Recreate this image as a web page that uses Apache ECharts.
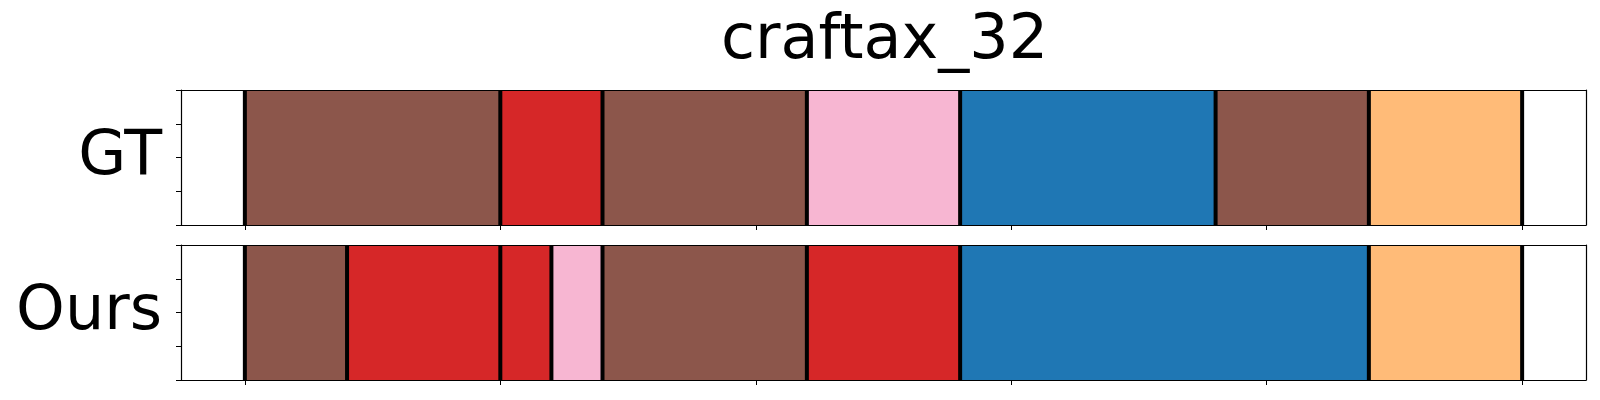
<!DOCTYPE html>
<html>
<head>
<meta charset="utf-8">
<script src="https://cdn.jsdelivr.net/npm/echarts@6/dist/echarts.min.js"></script>
<style>html,body{margin:0;padding:0;background:#fff}#c{width:1600px;height:400px}</style>
</head>
<body>
<div id="c"></div>
<script>
// ---- data ----
const title = 'craftax_32';
const rowNames = ['GT', 'Ours'];
const gtStarts = [0, 100, 140, 220, 280, 380, 440];
const gtEnds   = [100, 140, 220, 280, 380, 440, 500];
const gtClasses = ['brown', 'red', 'brown', 'pink', 'blue', 'brown', 'orange'];
const gtBoundaries = [0, 100, 140, 220, 280, 380, 440, 500];
const oursStarts = [0, 40, 100, 120, 140, 220, 280, 440];
const oursEnds   = [40, 100, 120, 140, 220, 280, 440, 500];
const oursClasses = ['brown', 'red', 'red', 'pink', 'brown', 'red', 'blue', 'orange'];
const oursBoundaries = [0, 40, 100, 120, 140, 220, 280, 440, 500];
const xTicks = [0, 100, 200, 300, 400, 500];
const xMin = -25, xMax = 525;

// ---- styles ----
const palette = { brown: '#8c564b', red: '#d62728', pink: '#f7b6d2', blue: '#1f77b4', orange: '#ffbb78' };
const FONT = 'DejaVu Sans';
const gridLeft = 181, gridW = 1405, gridH = 135;
const gridTops = [90, 245];

const chart = echarts.init(document.getElementById('c'), null, { renderer: 'canvas' });

function segRender(params, api) {
  const p0 = api.coord([api.value(0), 1]);
  const p1 = api.coord([api.value(1), 0]);
  return { type: 'rect', shape: { x: p0[0], y: p0[1], width: p1[0] - p0[0], height: p1[1] - p0[1] },
           style: { fill: api.visual('color') } };
}
function sepRender(params, api) {
  const a = api.coord([api.value(0), 0]);
  const b = api.coord([api.value(0), 1]);
  return { type: 'line', shape: { x1: a[0], y1: a[1], x2: b[0], y2: b[1] },
           style: { stroke: '#000', lineWidth: 4 } };
}

const grids = [], xAxes = [], yAxes = [], series = [];
const rows = [
  { starts: gtStarts, ends: gtEnds, classes: gtClasses, bounds: gtBoundaries },
  { starts: oursStarts, ends: oursEnds, classes: oursClasses, bounds: oursBoundaries }
];
rows.forEach((r, i) => {
  grids.push({ left: gridLeft, top: gridTops[i], width: gridW, height: gridH, containLabel: false });
  const lineStyle = { color: '#000', width: 1.2 };
  xAxes.push({ type: 'value', gridIndex: i, min: xMin, max: xMax, position: 'bottom', z: 10,
    axisLine: { show: true, onZero: false, lineStyle },
    axisTick: { show: true, length: 5, inside: false, customValues: xTicks, lineStyle: { color: '#000', width: 1 } },
    axisLabel: { show: false }, splitLine: { show: false } });
  xAxes.push({ type: 'value', gridIndex: i, min: xMin, max: xMax, position: 'top', z: 10,
    axisLine: { show: true, onZero: false, lineStyle }, axisTick: { show: false },
    axisLabel: { show: false }, splitLine: { show: false } });
  yAxes.push({ type: 'value', gridIndex: i, min: 0, max: 1, interval: 0.25, position: 'left', z: 10,
    axisLine: { show: true, onZero: false, lineStyle },
    axisTick: { show: true, length: 5, lineStyle: { color: '#000', width: 1 } },
    axisLabel: { show: false }, splitLine: { show: false },
    name: rowNames[i], nameLocation: 'middle', nameRotate: 0, nameGap: 19,
    nameTextStyle: { fontFamily: FONT, fontSize: 62, color: '#000', align: 'right', verticalAlign: 'middle', padding: [0, 0, 10, 0] } });
  yAxes.push({ type: 'value', gridIndex: i, min: 0, max: 1, position: 'right', z: 10,
    axisLine: { show: true, onZero: false, lineStyle }, axisTick: { show: false },
    axisLabel: { show: false }, splitLine: { show: false } });
  series.push({ type: 'custom', xAxisIndex: 2 * i, yAxisIndex: 2 * i, renderItem: segRender, z: 2,
    data: r.starts.map((s, k) => ({ value: [s, r.ends[k]], itemStyle: { color: palette[r.classes[k]] } })) });
  series.push({ type: 'custom', xAxisIndex: 2 * i, yAxisIndex: 2 * i, renderItem: sepRender, z: 3,
    data: r.bounds.map(b => [b]) });
});

chart.setOption({
  animation: false,
  backgroundColor: '#fff',
  title: { text: title, left: gridLeft + gridW / 2 - 4, textAlign: 'center', top: 6,
    textStyle: { fontFamily: FONT, fontSize: 62, fontWeight: 'normal', color: '#000' } },
  grid: grids, xAxis: xAxes, yAxis: yAxes, series
});
</script>
</body>
</html>
